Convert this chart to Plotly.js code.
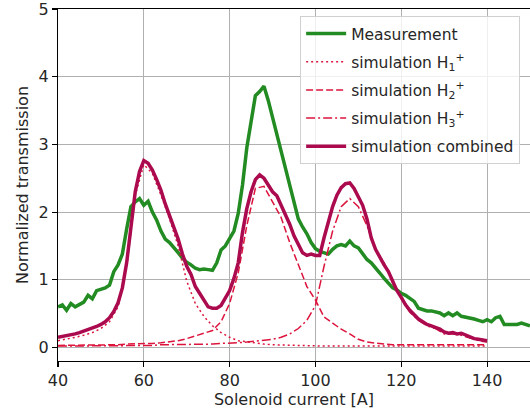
<!DOCTYPE html>
<html>
<head>
<meta charset="utf-8">
<script src="https://cdn.plot.ly/plotly-3.0.1.min.js"></script>
<style>html,body{margin:0;padding:0;background:#fff;}#chart{width:530px;height:412px;}</style>
</head>
<body>
<div id="chart"></div>
<script>
// Measurement: x = 40..150 step 1
const measX0 = 40;
const measurement = [0.60,0.63,0.55,0.65,0.60,0.64,0.67,0.77,0.72,0.84,0.86,0.88,0.92,1.12,1.22,1.38,1.75,2.08,2.15,2.20,
  2.10,2.16,2.00,1.88,1.72,1.60,1.55,1.48,1.40,1.32,1.26,1.22,1.17,1.15,1.16,1.15,1.14,1.25,1.44,1.50,
  1.62,1.72,1.98,2.40,2.95,3.35,3.72,3.78,3.86,3.65,3.40,3.15,2.90,2.62,2.35,2.10,1.90,1.78,1.68,1.55,
  1.46,1.42,1.40,1.38,1.45,1.50,1.52,1.50,1.57,1.50,1.47,1.38,1.30,1.25,1.18,1.10,1.02,0.95,0.88,0.85,
  0.80,0.77,0.72,0.68,0.58,0.56,0.54,0.54,0.53,0.51,0.47,0.51,0.47,0.51,0.46,0.45,0.43,0.42,0.40,0.38,
  0.41,0.38,0.44,0.46,0.34,0.34,0.33,0.34,0.36,0.34,0.32];

// Combined simulation: x = 40..140 step 1
const combX0 = 40;
const combined = [0.15,0.16,0.17,0.18,0.20,0.22,0.24,0.26,0.28,0.31,0.34,0.38,0.44,0.53,0.66,0.88,1.25,1.80,2.30,2.60,
  2.76,2.72,2.62,2.48,2.32,2.12,1.95,1.78,1.60,1.38,1.20,1.08,0.90,0.80,0.70,0.60,0.58,0.58,0.62,0.72,
  0.84,1.02,1.25,1.70,2.05,2.30,2.48,2.55,2.50,2.40,2.30,2.24,2.10,1.97,1.82,1.65,1.52,1.40,1.36,1.38,
  1.36,1.36,1.62,1.85,2.08,2.25,2.36,2.42,2.43,2.35,2.22,2.10,1.90,1.62,1.45,1.33,1.22,1.12,0.98,0.84,
  0.74,0.63,0.55,0.48,0.42,0.38,0.34,0.32,0.30,0.27,0.23,0.21,0.22,0.20,0.21,0.18,0.16,0.13,0.12,0.11,0.10];

// Components: x = 40..140 step 2
const compX0 = 40;
const simH1 = [0.10,0.12,0.15,0.18,0.22,0.28,0.38,0.60,1.18,2.25,2.70,2.57,2.25,1.90,1.50,0.98,0.65,0.46,0.32,0.22,
  0.15,0.10,0.08,0.06,0.05,0.04,0.035,0.03,0.03,0.025,0.02,0.02,0.02,0.02,0.02,0.02,0.02,0.02,0.02,0.02,
  0.02,0.02,0.02,0.02,0.02,0.02,0.02,0.02,0.02,0.02,0.02];
const simH2 = [0.03,0.03,0.03,0.03,0.03,0.04,0.04,0.04,0.05,0.05,0.06,0.06,0.07,0.08,0.10,0.13,0.17,0.20,0.25,0.38,
  0.65,1.10,1.80,2.35,2.38,2.15,1.92,1.55,1.22,0.90,0.70,0.45,0.36,0.27,0.20,0.12,0.08,0.06,0.05,0.04,
  0.04,0.04,0.04,0.04,0.04,0.04,0.04,0.04,0.04,0.04,0.04];
const simH3 = [0.02,0.02,0.02,0.02,0.02,0.02,0.03,0.03,0.03,0.03,0.03,0.03,0.04,0.04,0.04,0.04,0.05,0.05,0.05,0.06,
  0.06,0.07,0.08,0.09,0.10,0.12,0.15,0.20,0.28,0.40,0.62,1.20,1.72,2.08,2.20,2.08,1.80,1.45,1.25,0.95,
  0.72,0.52,0.40,0.32,0.28,0.20,0.20,0.18,0.14,0.10,0.08];

const xTicks = [40,60,80,100,120,140];
const yTicks = [0,1,2,3,4,5];

function xs(x0, step, n){ const a=[]; for(let i=0;i<n;i++) a.push(x0+i*step); return a; }

const cGreen = '#228b22';
const cComb = '#ab0b4e';
const cComp = '#dc143c';
const FS = 16;
const LFS = 15.5;

const traces = [
  {x: xs(measX0,1,measurement.length), y: measurement, name: 'Measurement', legendgroup:'a', mode:'lines', line:{color:cGreen, width:3.5}},
  {x: xs(compX0,2,simH1.length), y: simH1, name: 'simulation H<sub>1</sub><sup>+</sup>', legendgroup:'b', mode:'lines', line:{color:cComp, width:1.5, dash:'2px,3px'}},
  {x: xs(compX0,2,simH2.length), y: simH2, name: 'simulation H<sub>2</sub><sup>+</sup>', legendgroup:'c', mode:'lines', line:{color:cComp, width:1.5, dash:'7px,3px'}},
  {x: xs(compX0,2,simH3.length), y: simH3, name: 'simulation H<sub>3</sub><sup>+</sup>', legendgroup:'d', mode:'lines', line:{color:cComp, width:1.5, dash:'9px,3px,2px,3px'}},
  {x: xs(combX0,1,combined.length), y: combined, name: 'simulation combined', legendgroup:'e', mode:'lines', line:{color:cComb, width:3.5}}
];

const axisCommon = {
  showline:true, linecolor:'#000', linewidth:1.1, mirror:true,
  ticks:'outside', ticklen:5, tickwidth:1.1, tickcolor:'#000',
  showgrid:true, gridcolor:'#b0b0b0', gridwidth:1.1, zeroline:false,
  ticklabeloverflow:'allow',
  tickfont:{family:'DejaVu Sans', size:FS, color:'#262626'}
};

const layout = {
  width:530, height:412,
  margin:{l:58, r:0, t:9, b:51},
  paper_bgcolor:'#fff', plot_bgcolor:'#fff',
  font:{family:'DejaVu Sans', size:FS, color:'#262626'},
  xaxis: Object.assign({}, axisCommon, {range:[40,150], tickvals:xTicks, ticktext:xTicks.map(String),
    title:{text:'Solenoid current [A]', font:{family:'DejaVu Sans', size:FS, color:'#262626'}, standoff:4}}),
  yaxis: Object.assign({}, axisCommon, {range:[-0.2,5], tickvals:yTicks, ticktext:yTicks.map(String),
    title:{text:'Normalized transmission', font:{family:'DejaVu Sans', size:FS, color:'#262626'}, standoff:5}}),
  showlegend:true,
  legend:{x:0.513, y:0.98, xanchor:'left', yanchor:'top', bgcolor:'rgba(255,255,255,0.8)',
    bordercolor:'#d0d0d0', borderwidth:1, tracegroupgap:5, itemwidth:40,
    font:{family:'DejaVu Sans', size:LFS, color:'#262626'}}
};

Plotly.newPlot('chart', traces, layout, {staticPlot:true, displayModeBar:false});
</script>
</body>
</html>
